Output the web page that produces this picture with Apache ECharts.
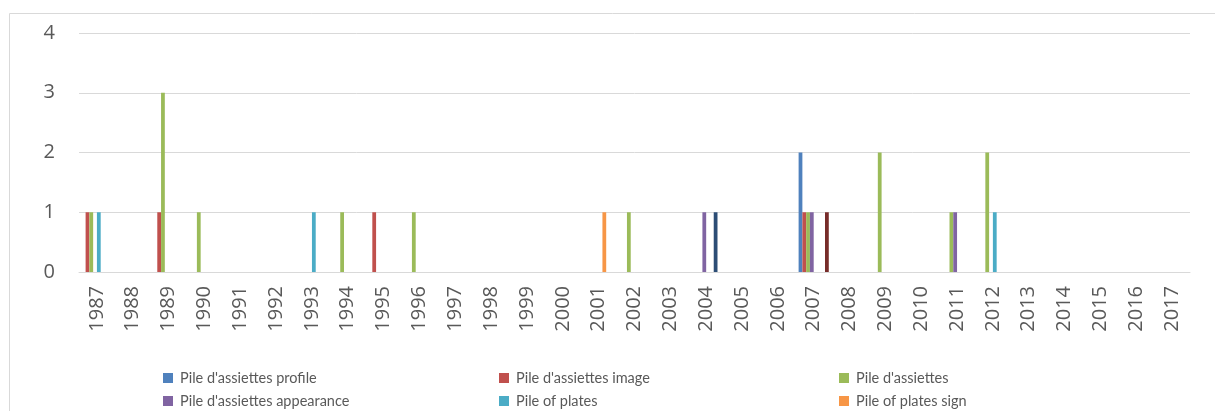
<!DOCTYPE html>
<html>
<head>
<meta charset="utf-8">
<script src="https://cdn.jsdelivr.net/npm/echarts@6/dist/echarts.min.js"></script>
<style>
html,body{margin:0;padding:0;background:#fff;}
#chart{width:1215px;height:411px;}
</style>
</head>
<body>
<div id="chart"></div>
<script>
// ---- data ----
var years = [];
for (var y = 1987; y <= 2017; y++) years.push(String(y));
var yTicks = [0, 1, 2, 3, 4];
//                       1987 88 89 90 91 92 93 94 95 96 97 98 99 00 01 02 03 04 05 06 07 08 09 10 11 12 13 14 15 16 17
var assiettesProfile    = [0, 0, 0, 0, 0, 0, 0, 0, 0, 0, 0, 0, 0, 0, 0, 0, 0, 0, 0, 0, 2, 0, 0, 0, 0, 0, 0, 0, 0, 0, 0];
var assiettesImage      = [1, 0, 1, 0, 0, 0, 0, 0, 1, 0, 0, 0, 0, 0, 0, 0, 0, 0, 0, 0, 1, 0, 0, 0, 0, 0, 0, 0, 0, 0, 0];
var assiettes           = [1, 0, 3, 1, 0, 0, 0, 1, 0, 1, 0, 0, 0, 0, 0, 1, 0, 0, 0, 0, 1, 0, 2, 0, 1, 2, 0, 0, 0, 0, 0];
var assiettesAppearance = [0, 0, 0, 0, 0, 0, 0, 0, 0, 0, 0, 0, 0, 0, 0, 0, 0, 1, 0, 0, 1, 0, 0, 0, 1, 0, 0, 0, 0, 0, 0];
var plates              = [1, 0, 0, 0, 0, 0, 1, 0, 0, 0, 0, 0, 0, 0, 0, 0, 0, 0, 0, 0, 0, 0, 0, 0, 0, 1, 0, 0, 0, 0, 0];
var platesSign          = [0, 0, 0, 0, 0, 0, 0, 0, 0, 0, 0, 0, 0, 0, 1, 0, 0, 0, 0, 0, 0, 0, 0, 0, 0, 0, 0, 0, 0, 0, 0];
var platesProfile       = [0, 0, 0, 0, 0, 0, 0, 0, 0, 0, 0, 0, 0, 0, 0, 0, 0, 1, 0, 0, 0, 0, 0, 0, 0, 0, 0, 0, 0, 0, 0];
var platesImage         = [0, 0, 0, 0, 0, 0, 0, 0, 0, 0, 0, 0, 0, 0, 0, 0, 0, 0, 0, 0, 1, 0, 0, 0, 0, 0, 0, 0, 0, 0, 0];

var seriesNames = ["Pile d'assiettes profile", "Pile d'assiettes image", "Pile d'assiettes",
                   "Pile d'assiettes appearance", "Pile of plates", "Pile of plates sign",
                   "Pile of plates profile", "Pile of plates image"];
var seriesData = [assiettesProfile, assiettesImage, assiettes, assiettesAppearance, plates, platesSign, platesProfile, platesImage];
var colors = ['#4F81BD', '#C0504D', '#9BBB59', '#8064A2', '#4BACC6', '#F79646', '#2C4D75', '#772C2A'];

var FONT = 'Open Sans';
var chart = echarts.init(document.getElementById('chart'), null, {renderer: 'canvas'});

var series = seriesData.map(function (d, i) {
  return {
    name: seriesNames[i],
    type: 'bar',
    data: d.map(function (v) { return v === 0 ? null : v; }),
    itemStyle: {color: colors[i]},
    barGap: '0%',
    barCategoryGap: '15.8%',
    animation: false
  };
});

function legendCol(names, left) {
  return {
    orient: 'vertical',
    left: left,
    top: 370,
    itemWidth: 10,
    itemHeight: 10,
    itemGap: 7,
    icon: 'rect',
    data: names,
    textStyle: {fontFamily: 'Lato', fontSize: 14.5, color: '#595959', lineHeight: 16, padding: [0, 0, 0, 2]},
    padding: 0
  };
}

chart.setOption({
  animation: false,
  color: colors,
  graphic: [{
    type: 'rect',
    shape: {x: 9.5, y: 13.5, width: 1220, height: 420},
    style: {fill: 'none', stroke: '#D9D9D9', lineWidth: 1},
    silent: true
  }],
  grid: {left: 79, right: 25, top: 33, bottom: 139, containLabel: false},
  legend: [
    legendCol([seriesNames[0], seriesNames[3]], 163),
    legendCol([seriesNames[1], seriesNames[4]], 499),
    legendCol([seriesNames[2], seriesNames[5]], 839)
  ],
  xAxis: {
    type: 'category',
    data: years,
    axisLine: {show: true, lineStyle: {color: '#D9D9D9', width: 1}},
    axisTick: {show: false},
    axisLabel: {rotate: 90, interval: 0, margin: 14, fontFamily: FONT, fontSize: 20, color: '#595959'}
  },
  yAxis: {
    type: 'value',
    min: yTicks[0],
    max: yTicks[yTicks.length - 1],
    interval: 1,
    axisLine: {show: false},
    axisTick: {show: false},
    splitLine: {lineStyle: {color: '#D9D9D9', width: 1}},
    axisLabel: {margin: 24, fontFamily: FONT, fontSize: 20, color: '#595959'}
  },
  series: series
});
</script>
</body>
</html>
